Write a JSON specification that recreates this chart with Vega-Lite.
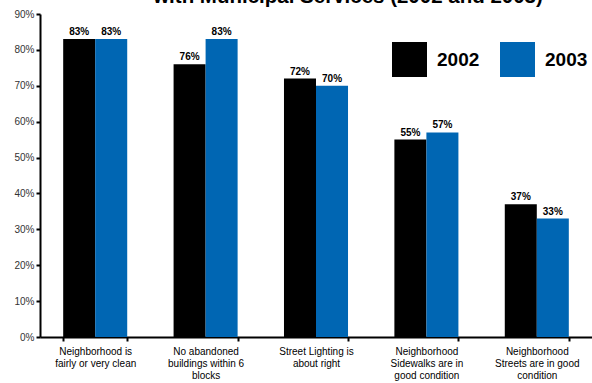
{
  "$schema": "https://vega.github.io/schema/vega-lite/v6.json",
  "width": 552,
  "height": 323,
  "autosize": {"type": "none"},
  "padding": {"left": 40, "top": 14, "right": 0, "bottom": 46},
  "background": "white",
  "config": {"view": {"stroke": null}, "font": "Liberation Sans"},
  "title": {
    "text": "with Municipal Services (2002 and 2003)",
    "fontSize": 20.5,
    "fontWeight": "bold",
    "font": "Liberation Sans",
    "color": "black",
    "anchor": "middle",
    "frame": "group",
    "dx": 32,
    "dy": 14,
    "offset": 0,
    "baseline": "alphabetic"
  },
  "data": {
    "values": [
      {"cat": "Neighborhood is|fairly or very clean", "year": "2002", "pct": 0.83},
      {"cat": "Neighborhood is|fairly or very clean", "year": "2003", "pct": 0.83},
      {"cat": "No abandoned|buildings within 6|blocks", "year": "2002", "pct": 0.76},
      {"cat": "No abandoned|buildings within 6|blocks", "year": "2003", "pct": 0.83},
      {"cat": "Street Lighting is|about right", "year": "2002", "pct": 0.72},
      {"cat": "Street Lighting is|about right", "year": "2003", "pct": 0.70},
      {"cat": "Neighborhood|Sidewalks are in|good condition", "year": "2002", "pct": 0.55},
      {"cat": "Neighborhood|Sidewalks are in|good condition", "year": "2003", "pct": 0.57},
      {"cat": "Neighborhood|Streets are in good|condition", "year": "2002", "pct": 0.37},
      {"cat": "Neighborhood|Streets are in good|condition", "year": "2003", "pct": 0.33}
    ]
  },
  "encoding": {
    "x": {
      "field": "cat",
      "type": "nominal",
      "sort": null,
      "scale": {"paddingInner": 0.42, "paddingOuter": 0.21},
      "axis": {
        "title": null,
        "labelAngle": 0,
        "labelExpr": "split(datum.label, '|')",
        "labelFontSize": 10,
        "labelColor": "black",
        "labelLineHeight": 12,
        "labelPadding": 5,
        "labelLimit": 200,
        "domainColor": "black",
        "domainWidth": 2,
        "tickColor": "black",
        "tickWidth": 2,
        "tickSize": 4,
        "tickBand": "extent",
        "bandPosition": 0
      }
    },
    "xOffset": {"field": "year", "type": "nominal", "scale": {"paddingInner": 0, "paddingOuter": 0}},
    "y": {
      "field": "pct",
      "type": "quantitative",
      "scale": {"domain": [0, 0.9], "nice": false},
      "axis": {
        "title": null,
        "values": [0, 0.1, 0.2, 0.3, 0.4, 0.5, 0.6, 0.7, 0.8, 0.9],
        "format": ".0%",
        "labelFontSize": 10,
        "labelColor": "#333333",
        "grid": false,
        "domainColor": "black",
        "domainWidth": 2,
        "tickColor": "black",
        "tickWidth": 2,
        "tickSize": 4,
        "labelPadding": 2
      }
    }
  },
  "layer": [
    {
      "mark": {"type": "bar"},
      "encoding": {
        "color": {
          "field": "year",
          "type": "nominal",
          "scale": {"domain": ["2002", "2003"], "range": ["#000000", "#0066b3"]},
          "legend": {
            "title": null,
            "orient": "none",
            "legendX": 352,
            "legendY": 28,
            "direction": "horizontal",
            "symbolType": "square",
            "symbolSize": 1225,
            "symbolStrokeWidth": 0,
            "labelFontSize": 19,
            "labelFontWeight": "bold",
            "labelColor": "black",
            "labelOffset": 10,
            "columnPadding": 20
          }
        }
      }
    },
    {
      "mark": {"type": "text", "dy": -7, "fontSize": 10, "fontWeight": "bold", "color": "black"},
      "encoding": {
        "text": {"field": "pct", "type": "quantitative", "format": ".0%"}
      }
    }
  ]
}
